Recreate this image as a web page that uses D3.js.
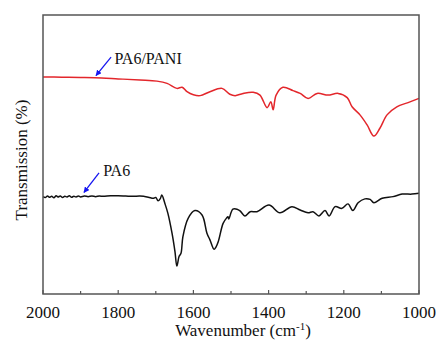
<!DOCTYPE html>
<html>
<head>
<meta charset="utf-8">
<script src="https://cdn.jsdelivr.net/npm/d3@7"></script>
<style>
  body { margin: 0; background: #fff; }
  text { font-family: "Liberation Serif", "Times New Roman", serif; fill: #111; }
</style>
</head>
<body>
<div id="chart"></div>
<script>
// FTIR spectra (wavenumber in cm-1, transmission in arbitrary %)
const pa6PaniWave = [2000, 1950, 1900, 1862, 1800, 1742, 1697, 1670, 1644, 1630, 1617, 1600, 1582, 1556, 1524, 1503, 1489, 1468, 1441, 1423, 1404, 1394, 1388, 1380, 1362, 1335, 1316, 1295, 1271, 1242, 1215, 1191, 1178, 1157, 1138, 1120, 1104, 1085, 1059, 1029, 1000];
const pa6PaniT = [77.8, 77.7, 77.6, 77.5, 77.1, 76.7, 76.3, 75.5, 73.7, 74.1, 72.5, 71.4, 71.1, 72.5, 73.7, 71.6, 71.1, 71.9, 72.3, 71.3, 66.8, 68.9, 66.0, 71.3, 74.1, 72.9, 71.9, 70.1, 71.9, 71.3, 71.9, 70.4, 67.1, 64.2, 60.6, 56.6, 59.4, 64.2, 67.1, 68.6, 70.1];

const pa6Wave = [2000, 1994, 1988, 1983, 1977, 1971, 1965, 1960, 1954, 1948, 1942, 1936, 1930, 1924, 1918, 1912, 1906, 1900, 1890, 1880, 1870, 1860, 1850, 1840, 1820, 1800, 1780, 1760, 1742, 1720, 1707, 1700, 1694, 1688, 1684, 1676, 1668, 1657, 1649, 1644, 1638, 1633, 1628, 1614, 1596, 1577, 1564, 1556, 1545, 1540, 1534, 1521, 1512, 1508, 1506, 1495, 1484, 1476, 1463, 1449, 1431, 1399, 1370, 1338, 1316, 1295, 1282, 1266, 1250, 1239, 1223, 1205, 1189, 1176, 1162, 1144, 1130, 1120, 1098, 1069, 1045, 1019, 1000];
const pa6T = [34.9, 34.6, 35.1, 34.7, 35.0, 34.5, 35.2, 34.8, 35.1, 34.6, 35.0, 34.8, 35.2, 34.7, 35.0, 34.8, 35.1, 34.8, 35.1, 34.9, 35.1, 34.9, 35.1, 35.0, 35.2, 35.2, 35.1, 35.0, 35.1, 34.7, 34.3, 34.6, 33.4, 34.2, 35.5, 32.5, 29.0, 21.9, 15.2, 10.0, 13.5, 14.6, 20.5, 27.1, 29.9, 28.3, 21.8, 19.4, 16.0, 16.8, 18.7, 25.3, 27.2, 27.7, 26.9, 30.4, 30.4, 29.8, 28.0, 29.5, 29.5, 31.9, 29.1, 31.3, 30.1, 29.1, 29.5, 28.0, 29.9, 28.0, 31.3, 30.7, 32.3, 29.9, 32.7, 34.1, 33.9, 32.7, 34.3, 34.9, 35.8, 35.8, 36.1];

const majorTicks = [2000, 1800, 1600, 1400, 1200, 1000];
const minorTicks = [1900, 1700, 1500, 1300, 1100];
const seriesNames = ["PA6/PANI", "PA6"];
const seriesColors = ["#e3262b", "#111111"];

const W = 436, H = 353;
const margin = {top: 15, right: 17, bottom: 59, left: 43};
const width = W - margin.left - margin.right,
      height = H - margin.top - margin.bottom;

const svg = d3.select("#chart").append("svg")
    .attr("width", W)
    .attr("height", H);

const g = svg.append("g")
    .attr("transform", `translate(${margin.left}, ${margin.top})`);

const x = d3.scaleLinear().domain([2000, 1000]).range([0, width]);
const y = d3.scaleLinear().domain([0, 100]).range([height, 0]);

// arrow marker
svg.append("defs").append("marker")
    .attr("id", "head")
    .attr("viewBox", "0 0 10 10")
    .attr("refX", 9).attr("refY", 5)
    .attr("markerWidth", 4.5).attr("markerHeight", 4.5)
    .attr("orient", "auto")
    .append("path")
    .attr("d", "M0,0 L10,5 L0,10 z")
    .attr("fill", "#1515f0");

// ticks (inward)
g.selectAll(".major")
    .data(majorTicks)
    .join("line")
    .attr("x1", d => x(d)).attr("x2", d => x(d))
    .attr("y1", height).attr("y2", height - 4)
    .attr("stroke", "#555").attr("stroke-width", 1.2);
g.selectAll(".minor")
    .data(minorTicks)
    .join("line")
    .attr("x1", d => x(d)).attr("x2", d => x(d))
    .attr("y1", height).attr("y2", height - 3)
    .attr("stroke", "#555").attr("stroke-width", 1.2);

g.selectAll(".tlab")
    .data(majorTicks)
    .join("text")
    .attr("x", d => x(d))
    .attr("y", height + 24)
    .attr("text-anchor", "middle")
    .style("font-size", "17px")
    .text(d => d);

// spectra
const line = d3.line()
    .x(d => x(d[0]))
    .y(d => y(d[1]))
    .curve(d3.curveCatmullRom);

const series = [
    d3.zip(pa6PaniWave, pa6PaniT),
    d3.zip(pa6Wave, pa6T)
];

g.selectAll(".spec")
    .data(series)
    .join("path")
    .attr("fill", "none")
    .attr("stroke", (d, i) => seriesColors[i])
    .attr("stroke-width", 1.5)
    .attr("stroke-linejoin", "round")
    .attr("d", line);

// frame
g.append("rect")
    .attr("width", width).attr("height", height)
    .attr("fill", "none")
    .attr("stroke", "#555").attr("stroke-width", 1.5);

// labels with arrows
const labelPos = [
    {tail: [1819, 84.9], tip: [1859, 78.3], text: [1810, 82.3]},
    {tail: [1851, 43.4], tip: [1891, 36.4], text: [1840, 42.3]}
];
labelPos.forEach((p, i) => {
    g.append("line")
        .attr("x1", x(p.tail[0])).attr("y1", y(p.tail[1]))
        .attr("x2", x(p.tip[0])).attr("y2", y(p.tip[1]))
        .attr("stroke", "#1515f0").attr("stroke-width", 1.3)
        .attr("marker-end", "url(#head)");
    g.append("text")
        .attr("x", x(p.text[0])).attr("y", y(p.text[1]))
        .style("font-size", "16px")
        .text(seriesNames[i]);
});

// axis titles
const xt = svg.append("text")
    .attr("x", 243).attr("y", 336)
    .attr("text-anchor", "middle")
    .style("font-size", "17px");
xt.append("tspan").text("Wavenumber (cm");
xt.append("tspan").attr("dy", -6).style("font-size", "11px").text("-1");
xt.append("tspan").attr("dy", 6).text(")");

svg.append("text")
    .attr("transform", "translate(27, 160) rotate(-90)")
    .attr("text-anchor", "middle")
    .style("font-size", "17px")
    .text("Transmission (%)");
</script>
</body>
</html>
